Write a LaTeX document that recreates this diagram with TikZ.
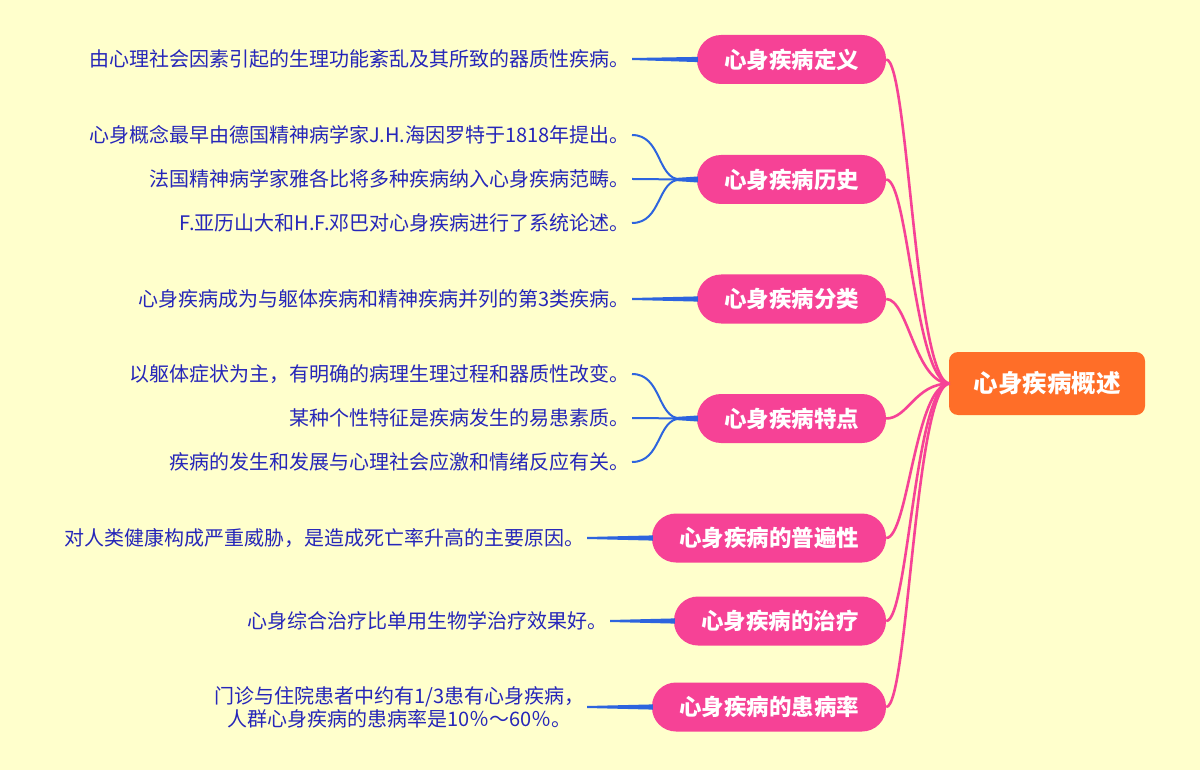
\documentclass[tikz,border=0pt]{standalone}
\usepackage{fontspec}
\setmainfont{Noto Sans CJK SC}
\usetikzlibrary{calc}
\definecolor{bg}{RGB}{255,255,204}
\definecolor{pk}{RGB}{246,66,150}
\definecolor{org}{RGB}{255,110,40}
\definecolor{leafblue}{RGB}{38,38,185}
\definecolor{lnblue}{RGB}{45,100,222}
\tikzset{
  leaf/.style={anchor=east, inner sep=0pt, text=leafblue, font=\fontsize{20}{23}\selectfont, align=center},
  br/.style={fill=pk, rounded corners=24pt, minimum height=49pt, text=white, inner sep=0pt, font=\fontsize{22.5}{26}\selectfont\bfseries},
  rootbox/.style={fill=org, rounded corners=9pt, minimum width=196pt, minimum height=63pt, text=white, inner sep=0pt, font=\fontsize{24.5}{28}\selectfont\bfseries},
  pkline/.style={draw=pk, line width=2.6pt},
  bline/.style={draw=lnblue, line width=2pt},
}
\newcommand{\taper}[2]{% straight tapered connector from leaf #1 to branch #2
  \fill[lnblue] ($(#1.east)+(2,-1)$) -- ($(#2.west)+(1,-2.6)$) -- ($(#2.west)+(1,2.6)$) -- ($(#1.east)+(2,1)$) -- cycle;}
\newcommand{\curv}[2]{% curved connector from leaf #1 to branch #2 trunk
  \draw[bline] ($(#1.east)+(2,0)$) .. controls +(30,0) and +(-24,0) .. ($(#2.west)+(-16,0)$);}
\newcommand{\trunk}[1]{%
  \fill[lnblue] ($(#1.west)+(-22,-1.5)$) -- ($(#1.west)+(1,-3)$) -- ($(#1.west)+(1,3)$) -- ($(#1.west)+(-22,1.5)$) -- cycle;}
\begin{document}
\begin{tikzpicture}[x=1pt,y=-1pt]
\useasboundingbox[fill=bg] (0,0) rectangle (1200,770);

% root
\node[rootbox] (root) at (1047,383.5) {心身疾病概述};

% branches
\node[br, minimum width=189pt] (b1) at (791.5,59.5) {心身疾病定义};
\node[br, minimum width=189pt] (b2) at (791.5,179.5) {心身疾病历史};
\node[br, minimum width=189pt] (b3) at (791.5,299) {心身疾病分类};
\node[br, minimum width=189pt] (b4) at (791.5,418.5) {心身疾病特点};
\node[br, minimum width=234pt] (b5) at (769,538) {心身疾病的普遍性};
\node[br, minimum width=212pt] (b6) at (780,621) {心身疾病的治疗};
\node[br, minimum width=234pt] (b7) at (769,707) {心身疾病的患病率};

% root connectors
\foreach \b in {b1,b2,b3,b4,b5,b6,b7}{
  \draw[pkline] (\b.east) .. controls +(22,0) and (915,383.5) .. ($(root.west)+(1,0)$);
}

% leaves
\node[leaf] (l1) at (630,59) {由心理社会因素引起的生理功能紊乱及其所致的器质性疾病。};
\node[leaf] (l21) at (630,135) {心身概念最早由德国精神病学家J.H.海因罗特于1818年提出。};
\node[leaf] (l22) at (630,179) {法国精神病学家雅各比将多种疾病纳入心身疾病范畴。};
\node[leaf] (l23) at (630,223) {F.亚历山大和H.F.邓巴对心身疾病进行了系统论述。};
\node[leaf] (l3) at (630,299) {心身疾病成为与躯体疾病和精神疾病并列的第3类疾病。};
\node[leaf] (l41) at (630,374) {以躯体症状为主，有明确的病理生理过程和器质性改变。};
\node[leaf] (l42) at (630,418) {某种个性特征是疾病发生的易患素质。};
\node[leaf] (l43) at (630,462) {疾病的发生和发展与心理社会应激和情绪反应有关。};
\node[leaf] (l5) at (585,538) {对人类健康构成严重威胁，是造成死亡率升高的主要原因。};
\node[leaf] (l6) at (608,621) {心身综合治疗比单用生物学治疗效果好。};
\node[leaf] (l7) at (585,707) {门诊与住院患者中约有1/3患有心身疾病，\\人群心身疾病的患病率是10％～60％。};

% leaf connectors
\taper{l1}{b1}
\curv{l21}{b2}\curv{l22}{b2}\curv{l23}{b2}\trunk{b2}
\taper{l3}{b3}
\curv{l41}{b4}\curv{l42}{b4}\curv{l43}{b4}\trunk{b4}
\taper{l5}{b5}
\taper{l6}{b6}
\taper{l7}{b7}
\end{tikzpicture}
\end{document}
